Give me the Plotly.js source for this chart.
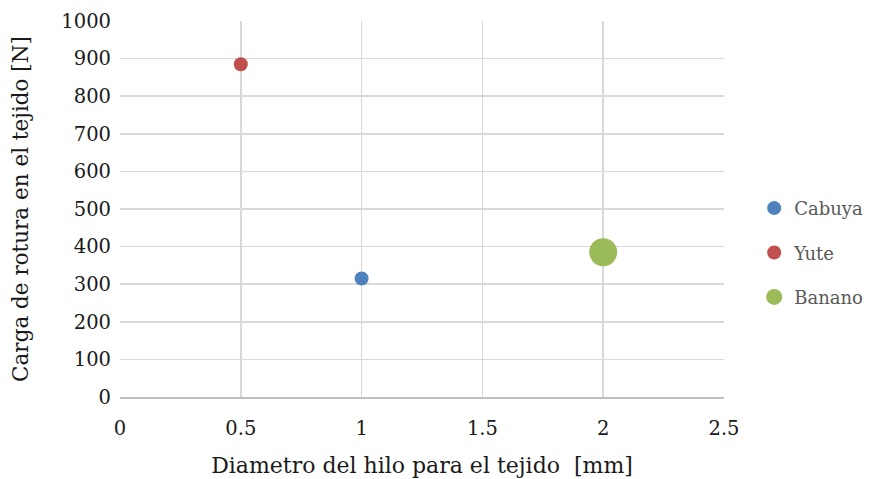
<!DOCTYPE html>
<html>
<head>
<meta charset="utf-8">
<script src="https://cdn.plot.ly/plotly-3.0.1.min.js"></script>
<style>html,body{margin:0;padding:0;background:#fff;}#chart{width:879px;height:479px;}</style>
</head>
<body>
<div id="chart"></div>
<script>
const seriesNames = ["Cabuya", "Yute", "Banano"];
const diameters = [1, 0.5, 2];
const loads = [315, 885, 385];
const colors = ["#4F81BD", "#C0504D", "#9BBB59"];
const markerSizes = [14, 14, 28];
const xTicks = [0, 0.5, 1, 1.5, 2, 2.5];
const yTicks = [0, 100, 200, 300, 400, 500, 600, 700, 800, 900, 1000];

const font = "DejaVu Serif, serif";
const traces = seriesNames.map((n, i) => ({
  type: "scatter", mode: "markers", name: n,
  x: [diameters[i]], y: [loads[i]],
  legendgroup: n,
  marker: {color: colors[i], size: markerSizes[i], line: {width: 0}}
}));

const layout = {
  width: 879, height: 479,
  margin: {l: 120, r: 155, t: 21, b: 82},
  paper_bgcolor: "#fff", plot_bgcolor: "#fff",
  font: {family: font, size: 19, color: "#1a1a1a"},
  showlegend: true,
  legend: {xref: "container", yref: "container", x: 0.858, xanchor: "left", y: 0.472, yanchor: "middle",
           font: {family: font, size: 18, color: "#595959"},
           traceorder: "grouped", tracegroupgap: 18, itemsizing: "trace"},
  xaxis: {range: [0, 2.5], tickvals: xTicks, ticktext: xTicks.map(String),
          showgrid: true, gridcolor: "#d9d9d9", gridwidth: 1.5,
          zeroline: false, showline: true, linecolor: "#bfbfbf", linewidth: 1.5,
          ticks: "", ticklabelstandoff: 13,
          tickfont: {family: font, size: 19.5, color: "#1a1a1a"},
          title: {text: "Diametro del hilo para el tejido  [mm]", font: {family: font, size: 22, color: "#1a1a1a"}, standoff: 18}},
  yaxis: {range: [0, 1000], tickvals: yTicks, ticktext: yTicks.map(String),
          showgrid: true, gridcolor: "#d9d9d9", gridwidth: 1.5,
          zeroline: false, showline: false,
          ticks: "", ticklabelstandoff: 8,
          tickfont: {family: font, size: 19.5, color: "#1a1a1a"},
          title: {text: "Carga de rotura en el tejido [N]", font: {family: font, size: 21.5, color: "#1a1a1a"}, standoff: 26}}
};

Plotly.newPlot("chart", traces, layout, {staticPlot: true, displayModeBar: false});
</script>
</body>
</html>
